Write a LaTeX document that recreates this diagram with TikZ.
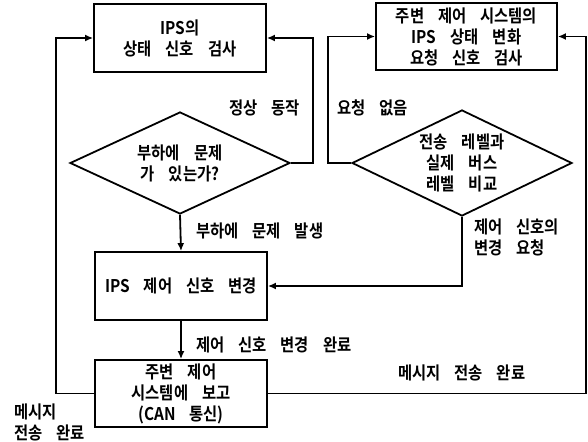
\documentclass[tikz,border=0pt]{standalone}
\usepackage{fontspec}
\setmainfont{Noto Sans CJK KR}[BoldFont={* Bold},WordSpace=4,FakeStretch=0.88]
\usetikzlibrary{shapes.geometric,arrows.meta}
\tikzset{
  box/.style={draw,line width=1.8pt,rectangle,inner sep=0pt,minimum width=172pt,minimum height=68pt,align=center},
  dia/.style={draw,line width=1.8pt,diamond,inner sep=0pt,minimum width=220pt,minimum height=102pt},
  txt/.style={align=center,inner sep=0pt},
  lbl/.style={align=left,inner sep=0pt,anchor=west},
  arr/.style={line width=1.8pt,-{Latex[length=8pt,width=7pt]}},
  ln/.style={line width=1.8pt}
}
\begin{document}
\begin{tikzpicture}[x=1pt,y=-1pt,font=\fontsize{17.5}{21}\selectfont\bfseries]
\useasboundingbox[fill=white] (0,0) rectangle (588,441);
\node[box] (b1) at (180,38) {IPS의\\상태 신호 검사};
\node[box,minimum width=181pt,minimum height=67pt] (b2) at (466.5,36.5) {주변 제어 시스템의\\IPS 상태 변화\\요청 신호 검사};
\node[dia] (d1) at (180,163) {};
\node[txt] (d1t) at (d1) {부하에 문제\\가 있는가?};
\node[dia,minimum height=106pt] (d2) at (462,163) {};
\node[txt] (d2t) at (d2) {전송 레벨과\\실제 버스\\레벨 비교};
\node[box] (b3) at (181,286) {IPS 제어 신호 변경};
\node[box,minimum height=67pt] (b5) at (181,393.5) {주변 제어\\시스템에 보고\\(CAN 통신)};

\node[lbl] (l1) at (229,108) {정상 동작};
\node[lbl] (l2) at (337,108) {요청 없음};
\node[lbl] (l3) at (196,231) {부하에 문제 발생};
\node[lbl] (l4) at (474,237) {제어 신호의\\변경 요청};
\node[lbl] (l5) at (196,345) {제어 신호 변경 완료};
\node[lbl] (l6) at (398,373) {메시지 전송 완료};
\node[lbl] (l7) at (14,422) {메시지\\전송 완료};

\draw[arr] (d1.east) -- ++(22,0) |- (b1.east);
\draw[arr] (d1.south) -- (b3.north);
\draw[arr] (b3.south) -- (b5.north);
\draw[arr] (b5.west) -- ++(-38,0) |- (b1.west);
\draw[arr] (b5.east) -| ([xshift=28pt]b2.east) -- (b2.east);
\draw[arr] (d2.west) -- ++(-23,0) |- (b2.west);
\draw[arr] (d2.south) |- (b3.east);
\end{tikzpicture}
\end{document}
